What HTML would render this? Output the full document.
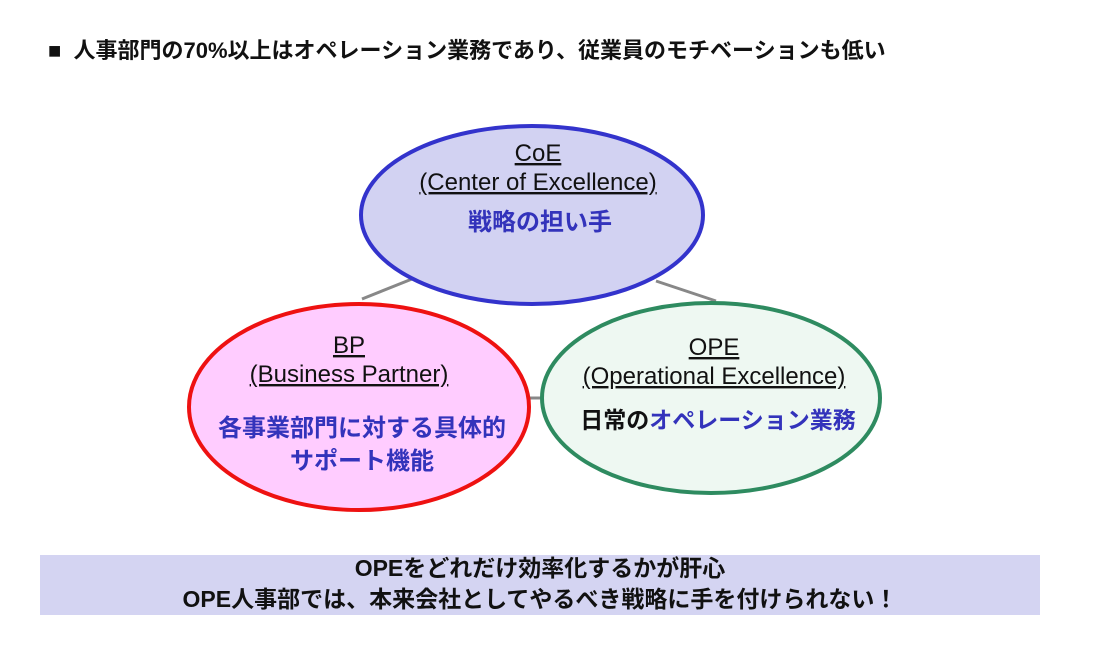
<!DOCTYPE html>
<html><head><meta charset="utf-8"><style>
body{margin:0;width:1120px;height:660px;background:#fff;position:relative;overflow:hidden;font-family:"Liberation Sans","Noto Sans CJK JP",sans-serif;}
.t{position:absolute;white-space:nowrap;}
</style></head><body>
<div class="t" style="left:48px;top:33px;font-size:22px;font-weight:bold;color:#111;">■&nbsp; 人事部門の70%以上はオペレーション業務であり、従業員のモチベーションも低い</div>
<svg width="1120" height="660" style="position:absolute;left:0;top:0" font-family="Liberation Sans, Noto Sans CJK JP, sans-serif">
<line x1="362" y1="299" x2="412" y2="279" stroke="#888" stroke-width="3"/>
<line x1="656" y1="281" x2="716" y2="301" stroke="#888" stroke-width="3"/>
<line x1="526" y1="398" x2="546" y2="398" stroke="#888" stroke-width="3"/>
<ellipse cx="532" cy="215" rx="171" ry="89" fill="#d2d2f2" stroke="#3333cc" stroke-width="4"/>
<ellipse cx="359" cy="407" rx="170" ry="103" fill="#ffccff" stroke="#ee1111" stroke-width="4"/>
<ellipse cx="711" cy="398" rx="169" ry="95" fill="#eef8f2" stroke="#2e8b60" stroke-width="4"/>
<g font-size="24" fill="#111" text-anchor="middle" text-decoration="underline">
<text x="538" y="161">CoE</text>
<text x="538" y="190">(Center of Excellence)</text>
<text x="349" y="353">BP</text>
<text x="349" y="382">(Business Partner)</text>
<text x="714" y="355">OPE</text>
<text x="714" y="384">(Operational Excellence)</text>
</g>
<g font-size="24" font-weight="bold" fill="#3333bb" text-anchor="middle">
<text x="540" y="230">戦略の担い手</text>
<text x="362" y="436">各事業部門に対する具体的</text>
<text x="362" y="469">サポート機能</text>
<text x="718" y="428" font-size="23"><tspan fill="#111">日常の</tspan>オペレーション業務</text>
</g>
</svg>
<div style="position:absolute;left:40px;top:555px;width:1000px;height:60px;background:#d4d4f2;"></div>
<div class="t" style="left:40px;width:1000px;top:553px;text-align:center;font-size:23px;font-weight:bold;line-height:31px;color:#111;">OPEをどれだけ効率化するかが肝心<br>OPE人事部では、本来会社としてやるべき戦略に手を付けられない！</div>
</body></html>
